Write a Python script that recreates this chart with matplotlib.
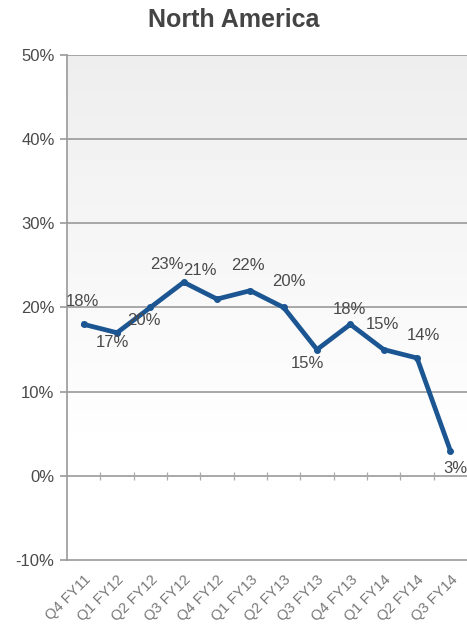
import numpy as np
import matplotlib
matplotlib.use("Agg")
import matplotlib.pyplot as plt

plt.rcParams["font.family"] = ["Liberation Sans", "DejaVu Sans"]

# data
quarters = ["Q4 FY11", "Q1 FY12", "Q2 FY12", "Q3 FY12", "Q4 FY12", "Q1 FY13",
            "Q2 FY13", "Q3 FY13", "Q4 FY13", "Q1 FY14", "Q2 FY14", "Q3 FY14"]
growth = [18, 17, 20, 23, 21, 22, 20, 15, 18, 15, 14, 3]
yticks = [-10, 0, 10, 20, 30, 40, 50]

# label offsets in pixels (dx, dy), dy positive = down
label_offsets = [(-1, -23), (-5, 10), (-6, 13), (-17, -18), (-17, -29), (-2, -25),
                 (5, -26), (-10, 14), (-1, -15), (-1, -25), (6, -22), (5, 18)]

fig = plt.figure(figsize=(4.67, 6.29), dpi=100)
ax = fig.add_axes([0.1435, 0.1097, 0.8565, 0.8029])

x = np.arange(len(quarters))
ax.set_xlim(-0.5, len(quarters) - 0.5)
ax.set_ylim(-10, 50)

# light gradient in upper part of the plot area, fading to white
grad = np.linspace(0.935, 1.0, 256) ** 1.0
grad = grad.reshape(-1, 1)
ax.imshow(np.dstack([grad, grad, grad]), extent=[-0.5, 11.5, 5, 50], aspect="auto",
          zorder=0, interpolation="bilinear")

for yv in yticks[1:]:
    ax.axhline(yv, color="#999999", lw=1.2, zorder=1)

# small tick marks on the 0% line between categories
ax.vlines(x[:-1] + 0.5, -0.45, 0.45, color="#aaaaaa", lw=0.9, zorder=1)

ax.plot(x, growth, color="#1b5592", lw=3.4, marker="o", markersize=4,
        solid_joinstyle="round", zorder=3)

for xi, yi, (dx, dy) in zip(x, growth, label_offsets):
    ax.annotate(f"{yi}%", (xi, yi), xytext=(dx * 0.72, -dy * 0.72),
                textcoords="offset points", ha="center", va="center",
                fontsize=12, color="#4a4a4a", zorder=4)

ax.set_yticks(yticks)
ax.set_yticklabels([f"{v}%" for v in yticks], fontsize=12, color="#4a4a4a")
ax.set_xticks(x)
ax.set_xticklabels(quarters, rotation=45, ha="right", rotation_mode="anchor",
                   fontsize=10.5, color="#777777")
ax.tick_params(axis="x", length=0, pad=9)
ax.tick_params(axis="y", length=5, color="#999999", width=1.2, pad=4)

for s in ["top", "right"]:
    ax.spines[s].set_visible(False)
for s in ["left", "bottom"]:
    ax.spines[s].set_color("#999999")
    ax.spines[s].set_linewidth(1.2)

fig.text(0.5, 0.968, "North America", ha="center", va="center",
         fontsize=18, fontweight="bold", color="#444444")

fig.savefig("out.png", dpi=100)
